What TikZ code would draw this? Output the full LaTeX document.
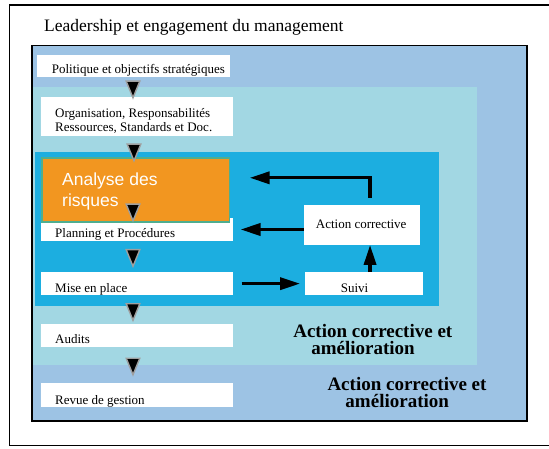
\documentclass[tikz,border=0pt]{standalone}
\usepackage{fontspec}
\setmainfont{Liberation Serif}
\newfontfamily\arialfont{Liberation Sans}
\usetikzlibrary{arrows.meta}
\definecolor{midblue}{HTML}{9DC3E4}
\definecolor{paleblue}{HTML}{A2D7E3}
\definecolor{brightblue}{HTML}{1CAEE0}
\definecolor{orangefill}{HTML}{F29620}
\definecolor{tealborder}{HTML}{4FAE8F}
\tikzset{
  whitebox/.style={fill=white, draw=none, inner sep=0pt},
  smalltxt/.style={inner sep=0pt, anchor=base west, font=\fontsize{13}{14.4}\selectfont},
  boldtxt/.style={inner sep=0pt, anchor=base, align=center, font=\fontsize{19}{17}\selectfont\bfseries},
  tri/.style={fill=black, draw=gray!75, line width=1.4pt, line join=miter},
  bigarrow/.style={line width=3.4pt, -{Triangle[length=20pt,width=12pt]}}
}
\newcommand{\downtri}[1]{\draw[tri] (#1) ++(-6.8,-8.3) -- ++(13.6,0) -- ++(-6.8,16.6) -- cycle;}
\begin{document}
\begin{tikzpicture}[x=1pt,y=-1pt]
\useasboundingbox (0,0) rectangle (549,449);
\clip (0,0) rectangle (549,449);
\fill[white] (0,0) rectangle (549,449);
% outer frame
\draw[line width=1.8pt] (9.5,5) rectangle (600,445.5);
\node[smalltxt, font=\fontsize{17.5}{19}\selectfont] (lead) at (44,32) {Leadership et engagement du management};
% nested containers
\draw[fill=midblue, line width=1.6pt] (31.7,45.5) rectangle (527,421);
\fill[paleblue] (33,87) rectangle (477,365);
\fill[brightblue] (35,152) rectangle (438.7,305.7);
% white boxes
\node[whitebox, minimum width=192.7pt, minimum height=22pt] (pol) at (133.35,66) {};
\node[whitebox, minimum width=192.3pt, minimum height=39pt] (org) at (136.85,116.5) {};
\node[whitebox, minimum width=192.3pt, minimum height=23pt] (plan) at (136.85,229.5) {};
\node[whitebox, minimum width=192.3pt, minimum height=22.7pt] (mise) at (136.85,283.65) {};
\node[whitebox, minimum width=192.3pt, minimum height=22.7pt] (aud) at (136.85,335.35) {};
\node[whitebox, minimum width=192.3pt, minimum height=23.4pt] (rev) at (136.85,395) {};
\node[whitebox, minimum width=116pt, minimum height=39.7pt] (ac) at (361.7,224.85) {};
\node[whitebox, minimum width=117.7pt, minimum height=22.7pt] (suivi) at (363.85,283.65) {};
\node[fill=orangefill, draw=tealborder, line width=1.3pt, inner sep=0pt,
      minimum width=187.7pt, minimum height=64pt] (ana) at (135.85,190) {};
% texts
\node[smalltxt] (tpol) at (51.7,73.3) {Politique et objectifs stratégiques};
\node[smalltxt] (torg1) at (55,117.3) {Organisation, Responsabilités};
\node[smalltxt] (torg2) at (55,131.7) {Ressources, Standards et Doc.};
\node[smalltxt, text=white, font=\arialfont\fontsize{17.5}{21}\selectfont] (tana1) at (62,186) {Analyse des};
\node[smalltxt, text=white, font=\arialfont\fontsize{17.5}{21}\selectfont] (tana2) at (62,207) {risques};
\node[smalltxt] (tplan) at (55,238) {Planning et Procédures};
\node[smalltxt] (tmise) at (55,292.3) {Mise en place};
\node[smalltxt] (taud) at (55,343) {Audits};
\node[smalltxt] (trev) at (55,404) {Revue de gestion};
\node[smalltxt] (tac) at (315.7,228.5) {Action corrective};
\node[smalltxt] (tsuivi) at (340.7,292.3) {Suivi};
\node[boldtxt] (bold1) at (372.8,354.7) {Action corrective et\\amélioration\hspace*{19.6pt}};
\node[boldtxt] (bold2) at (407,407.3) {Action corrective et\\amélioration\hspace*{19.6pt}};
% triangles
\coordinate (t1) at (133,89.5);
\coordinate (t2) at (134,152.5);
\coordinate (t3) at (133,212.5);
\coordinate (t4) at (133,258);
\coordinate (t5) at (133,312);
\coordinate (t6) at (133,366.5);
\downtri{t1}\downtri{t2}\downtri{t3}\downtri{t4}\downtri{t5}\downtri{t6}
% thick arrows
\coordinate (turn) at (370,177.8);
\draw[bigarrow, shorten <=8.3pt, shorten >=4.7pt] (mise.east) -- (suivi.west);
\draw[bigarrow, shorten >=7.3pt] (ac.west |- plan.east) -- (plan.east);
\draw[bigarrow] ([xshift=6.2pt]suivi.north) -- ([xshift=6.2pt]suivi.north |- ac.south);
\draw[bigarrow, shorten <=7.2pt, shorten >=19.3pt] ([xshift=8.3pt]ac.north) |- (ana.east |- turn);
\end{tikzpicture}
\end{document}
